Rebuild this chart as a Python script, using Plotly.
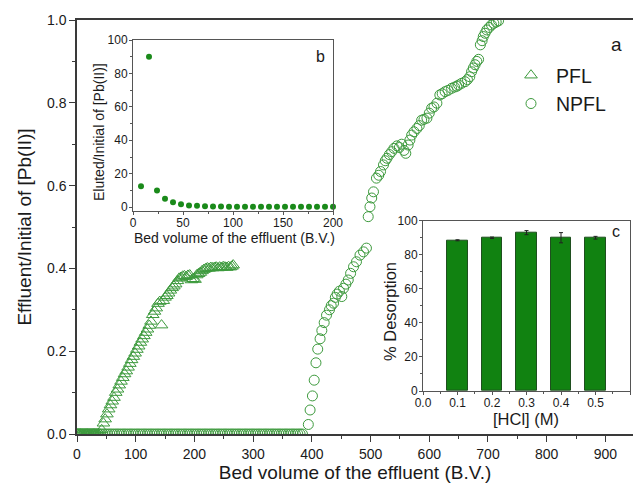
import plotly.graph_objects as go

# ---------------- data ----------------
# Main panel (a): PFL (triangles)
pfl_x = [0, 2, 4, 6, 8, 10, 12, 14, 16, 18, 20, 22, 24, 26, 28, 30, 32, 34, 36,
         39, 42, 45, 48, 51, 54, 57, 60, 63, 66, 69, 72, 75, 78, 81, 84, 87, 90,
         93, 96, 99, 102, 105, 108, 111, 114, 117, 120, 123, 126, 129, 132, 135,
         138, 141, 144, 147, 150, 153, 156, 159, 162, 165, 168, 171, 174, 177,
         180, 183, 186, 189, 192, 195, 198, 201, 204, 207, 210, 213, 216, 219,
         222, 225, 228, 231, 234, 237, 240, 243, 246, 249, 252, 255, 258, 261,
         264, 266]
pfl_y = [0, 0, 0, 0, 0, 0, 0, 0, 0, 0, 0, 0, 0, 0, 0, 0, 0, 0, 0,
         0.0, 0.01, 0.026, 0.036, 0.048, 0.06, 0.07, 0.079, 0.088, 0.1, 0.108,
         0.118, 0.127, 0.136, 0.145, 0.152, 0.161, 0.17, 0.179, 0.187, 0.195,
         0.204, 0.212, 0.221, 0.229, 0.237, 0.245, 0.253, 0.262, 0.272, 0.288,
         0.296, 0.304, 0.315, 0.32, 0.263, 0.322, 0.33, 0.334, 0.34, 0.347,
         0.353, 0.357, 0.362, 0.37, 0.376, 0.378, 0.381, 0.382, 0.38, 0.383,
         0.384, 0.372, 0.375, 0.373, 0.384, 0.387, 0.39, 0.394, 0.397, 0.399,
         0.401, 0.4, 0.402, 0.401, 0.402, 0.403, 0.401, 0.403, 0.402, 0.404,
         0.403, 0.402, 0.404, 0.403, 0.405, 0.408]

# Main panel (a): NPFL (circles)
npfl_x = [0, 4, 8, 12, 16, 20, 24, 28, 32, 36, 40, 44, 48, 52, 56, 60, 64, 68,
          72, 76, 80, 84, 88, 92, 96, 100, 104, 108, 112, 116, 120, 124, 128,
          132, 136, 140, 144, 148, 152, 156, 160, 164, 168, 172, 176, 180, 184,
          188, 192, 196, 200, 204, 208, 212, 216, 220, 224, 228, 232, 236, 240,
          244, 248, 252, 256, 260, 264, 268, 272, 276, 280, 284, 288, 292, 296,
          300, 304, 308, 312, 316, 320, 324, 328, 332, 336, 340, 344, 348, 352,
          356, 360, 364, 368, 372, 376, 380, 384,
          394, 397, 401, 404, 407, 410, 414, 417, 421, 425, 430, 433, 437, 440,
          443, 447, 451, 454, 458, 462, 466, 471, 476, 482, 488, 493, 496, 499,
          502, 505, 510, 514, 517, 522, 525, 528, 532, 536, 540, 545, 549, 553,
          557, 560, 564, 567, 570, 574, 579, 583, 587, 591, 596, 600, 604, 608,
          613, 618, 622, 627, 632, 638, 643, 647, 650, 655, 661, 665, 669, 672,
          675, 678, 681, 684, 687, 690, 692, 695, 698, 702, 706, 710, 714, 718]
npfl_y = [0, 0, 0, 0, 0, 0, 0, 0, 0, 0, 0, 0, 0, 0, 0, 0, 0, 0, 0, 0, 0, 0, 0,
          0, 0, 0, 0, 0, 0, 0, 0, 0, 0, 0, 0, 0, 0, 0, 0, 0, 0, 0, 0, 0, 0, 0,
          0, 0, 0, 0, 0, 0, 0, 0, 0, 0, 0, 0, 0, 0, 0, 0, 0, 0, 0, 0, 0, 0, 0,
          0, 0, 0, 0, 0, 0, 0, 0, 0, 0, 0, 0, 0, 0, 0, 0, 0, 0, 0, 0, 0, 0, 0,
          0, 0, 0, 0, 0,
          0.023, 0.058, 0.092, 0.13, 0.172, 0.205, 0.23, 0.25, 0.269, 0.287,
          0.30, 0.31, 0.316, 0.33, 0.338, 0.345, 0.332, 0.352, 0.362, 0.372,
          0.388, 0.404, 0.416, 0.432, 0.44, 0.449, 0.525, 0.549, 0.57, 0.585,
          0.618, 0.625, 0.634, 0.65, 0.66, 0.666, 0.675, 0.682, 0.69, 0.696,
          0.692, 0.70, 0.685, 0.678, 0.698, 0.71, 0.722, 0.73, 0.738, 0.745,
          0.758, 0.76, 0.763, 0.775, 0.787, 0.79, 0.799, 0.819, 0.822, 0.827,
          0.83, 0.835, 0.838, 0.84, 0.843, 0.847, 0.851, 0.856, 0.863, 0.875,
          0.884, 0.892, 0.9, 0.905, 0.94, 0.95, 0.96, 0.968, 0.976, 0.982,
          0.988, 0.992, 0.995, 0.998]

# Inset (b): elution
elu_x = [8, 16, 24, 32, 40, 48, 56, 64, 72, 80, 88, 96, 104, 112, 120, 128,
         136, 144, 152, 160, 168, 176, 184, 192, 200]
elu_y = [12.5, 90, 10, 5, 3, 1.8, 1.0, 0.8, 0.5, 0.4, 0.4, 0.3, 0.3, 0.3, 0.3,
         0.3, 0.3, 0.3, 0.3, 0.3, 0.3, 0.3, 0.3, 0.3, 0.3]

# Inset (c): desorption vs HCl
hcl = [0.1, 0.2, 0.3, 0.4, 0.5]
desorp = [88.5, 90, 93, 90, 90]
desorp_err = [0.3, 0.4, 1.2, 3.0, 0.8]

# ---------------- figure ----------------
FONT = "Liberation Sans, Arial, sans-serif"
TXT = "#1a1a1a"
AX = "#3a3a3a"
GREEN_LINE = "#3d9a3d"
GREEN_DOT = "#1a8a1a"
BAR = "#118211"

fig = go.Figure()

fig.add_trace(go.Scatter(
    x=pfl_x, y=pfl_y, mode="markers", name="PFL",
    marker=dict(symbol="triangle-up-open", size=11, color=GREEN_LINE,
                line=dict(width=1, color=GREEN_LINE)),
    xaxis="x", yaxis="y"))
fig.add_trace(go.Scatter(
    x=npfl_x, y=npfl_y, mode="markers", name="NPFL",
    marker=dict(symbol="circle-open", size=10, color=GREEN_LINE,
                line=dict(width=1, color=GREEN_LINE)),
    xaxis="x", yaxis="y"))

fig.add_trace(go.Scatter(
    x=elu_x, y=elu_y, mode="markers", showlegend=False,
    marker=dict(symbol="circle", size=6, color=GREEN_DOT),
    xaxis="x2", yaxis="y2", cliponaxis=False))

fig.add_trace(go.Bar(
    x=hcl, y=desorp, width=0.06, showlegend=False,
    marker=dict(color=BAR, line=dict(color="#1f4f1f", width=1)),
    error_y=dict(type="data", array=desorp_err, color="#222", thickness=1,
                 width=2),
    xaxis="x3", yaxis="y3"))

W, H = 633, 496
L, R, T, B = 77, 0, 20, 62
PW, PH = W - L - R, H - T - B


def px_x(p):
    return (p - L) / PW


def px_y(p):
    return (H - B - p) / PH


tickfont_main = dict(family=FONT, size=14, color=TXT)
tickfont_small = dict(family=FONT, size=12, color=TXT)


def label(text, x, y, size, angle=0):
    return dict(text=text, x=px_x(x), y=px_y(y), xref="paper", yref="paper",
                xanchor="center", yanchor="middle", showarrow=False,
                textangle=angle, font=dict(family=FONT, size=size, color=TXT))


fig.update_layout(
    width=W, height=H,
    margin=dict(l=L, r=R, t=T, b=B, autoexpand=False),
    paper_bgcolor="white", plot_bgcolor="white",
    font=dict(family=FONT, color=TXT),
    showlegend=True,
    legend=dict(x=px_x(506), y=px_y(56), xanchor="left", yanchor="top",
                bgcolor="rgba(0,0,0,0)", font=dict(family=FONT, size=19.5,
                                                   color=TXT),
                itemwidth=40, tracegroupgap=0),
    bargap=0,
    xaxis=dict(
        domain=[0, 1], range=[0, 947], anchor="y",
        showline=True, linecolor=AX, linewidth=1.5, mirror=True,
        showgrid=False, zeroline=False,
        ticks="outside", ticklen=6, tickwidth=1.2, tickcolor=AX,
        dtick=100, tick0=0, tickfont=tickfont_main,
        minor=dict(dtick=50, ticks="outside", ticklen=3, tickcolor=AX),
        title=dict(text="Bed volume of the effluent (B.V.)",
                   font=dict(family=FONT, size=19, color=TXT), standoff=5)),
    yaxis=dict(
        domain=[0, 1], range=[0, 1.0], anchor="x",
        showline=True, linecolor=AX, linewidth=1.5,
        showgrid=False, zeroline=False,
        ticks="outside", ticklen=6, tickwidth=1.2, tickcolor=AX,
        dtick=0.2, tick0=0, tickformat=".1f", tickfont=tickfont_main,
        minor=dict(dtick=0.1, ticks="outside", ticklen=3, tickcolor=AX),
        title=dict(text="Effluent/Initial of [Pb(II)]",
                   font=dict(family=FONT, size=19, color=TXT), standoff=10)),
    xaxis2=dict(
        domain=[px_x(133), px_x(333)], range=[0, 200], anchor="y2",
        showline=True, linecolor="#555", linewidth=1, mirror=True,
        showgrid=False, zeroline=False,
        ticks="outside", ticklen=3, tickcolor="#555",
        dtick=50, tickfont=tickfont_small, ticklabelstandoff=-2,
        minor=dict(dtick=25, ticks="outside", ticklen=2, tickcolor="#555")),
    yaxis2=dict(
        domain=[px_y(210.5), px_y(40)], range=[-2, 100], anchor="x2",
        showline=True, linecolor="#555", linewidth=1, mirror=True,
        showgrid=False, zeroline=False,
        ticks="outside", ticklen=3, tickcolor="#555",
        dtick=20, tick0=0, tickfont=tickfont_small, ticklabelstandoff=-1,
        minor=dict(dtick=10, ticks="outside", ticklen=2, tickcolor="#555")),
    xaxis3=dict(
        domain=[px_x(423), px_x(630)], range=[0, 0.6], anchor="y3",
        showline=True, linecolor="#555", linewidth=1, mirror=True,
        showgrid=False, zeroline=False,
        ticks="outside", ticklen=3, tickcolor="#555",
        dtick=0.1, tick0=0, tickformat=".1f", tickfont=tickfont_small,
        ticklabelstandoff=-2,
        minor=dict(dtick=0.05, ticks="outside", ticklen=2, tickcolor="#555")),
    yaxis3=dict(
        domain=[px_y(391), px_y(220.7)], range=[0, 100], anchor="x3",
        showline=True, linecolor="#555", linewidth=1, mirror=True,
        showgrid=False, zeroline=False,
        ticks="outside", ticklen=3, tickcolor="#555",
        dtick=20, tick0=0, tickfont=tickfont_small, ticklabelstandoff=-1,
        minor=dict(dtick=10, ticks="outside", ticklen=2, tickcolor="#555")),
    annotations=[
        label("a", 616, 44, 19),
        label("b", 320, 57, 16),
        label("c", 616, 231, 16),
        label("Bed volume of the effluent (B.V.)", 234, 238, 14),
        label("Eluted/Initial of [Pb(II)]", 99, 132, 14, -90),
        label("[HCl] (M)", 526, 419, 16.5),
        label("% Desorption", 390, 312, 16.5, -90),
    ],
)

fig.write_html("out.html")
